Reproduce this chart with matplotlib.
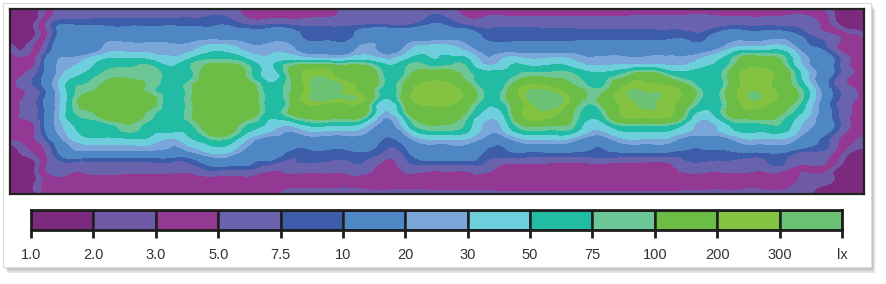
import numpy as np
import matplotlib
matplotlib.use("Agg")
import matplotlib.pyplot as plt
import matplotlib.tri as mtri
from matplotlib.patches import Rectangle

# lux classes of the legend (last limit only closes the top class)
bounds = [1.0, 2.0, 3.0, 5.0, 7.5, 10, 20, 30, 50, 75, 100, 200, 300, 1000]
tick_labels = ["1.0", "2.0", "3.0", "5.0", "7.5", "10", "20", "30", "50",
               "75", "100", "200", "300", "lx"]
band_colors = ["#7b2a7e", "#6f5aa8", "#933993", "#6963ae", "#3d5daa",
               "#4f87c5", "#7ba6da", "#6dcfdc", "#22bba3", "#6dc696",
               "#6bbd45", "#84c242", "#6bc174"]

# typical lux for each class code ('d' = hot spot)
band_lux = {"0": 1.4, "1": 2.45, "2": 3.9, "3": 6.1, "4": 8.7, "5": 14,
            "6": 24.5, "7": 39, "8": 61, "9": 87, "a": 141, "b": 245,
            "c": 346, "d": 500}

# class codes on the measuring grid, top row first, left to right
lux_rows = [
    "0023333333 3322222333 3332222222 2222222222 2100",
    "0034444444 4433333333 3443333333 3333333333 3200",
    "0035555555 5555544455 5555444444 4444445555 4321",
    "1145566666 7766655565 6776555555 5555556777 5422",
    "2256788878 9987888887 8888677776 6666678aa9 6532",
    "2357899988 aa979bbaa8 9aa9889998 89a9889bba 7532",
    "23589aa989 aaa89bdba8 abba89bba9 9bbba89bba 8532",
    "2358aaaa89 aaa89bbba7 abba89bdb9 abcba89bba 8532",
    "23589aa989 aaa89aaa96 9aa978bba8 9bbb979aa9 7532",
    "2257889888 aa87677765 7998679997 7888767888 6532",
    "1246777767 8865555554 5666556665 5666555666 5421",
    "0135555555 6655444443 4555444444 4444444444 3310",
    "0033333333 4443333332 3333322222 2222333333 2200",
    "0022222222 2222222222 2222222222 2222222222 1100",
    "0022222222 2222111111 1111111111 1111111111 1000",
]

lux = np.array([[band_lux[ch] for ch in "".join(row.split())] for row in lux_rows])
nrows, ncols = lux.shape
gx, gy = np.meshgrid(np.arange(ncols), np.arange(nrows))

W, H = 886, 284
fig = plt.figure(figsize=(W / 100, H / 100), dpi=100)
fig.patch.set_facecolor("white")


def box(x, y, w, h):
    # pixel box (from top left) -> figure fraction
    return [x / W, 1 - (y + h) / H, w / W, h / H]


# card with soft drop shadow
for k in range(7):
    fig.patches.append(Rectangle(((4 + k * 0.6) / W, 1 - (268 + k * 0.9) / H),
                                 868 / W, 264 / H, transform=fig.transFigure,
                                 facecolor="#000000", alpha=0.045, lw=0, zorder=-20))
fig.patches.append(Rectangle((3 / W, 1 - 267 / H), 868 / W, 264 / H,
                             transform=fig.transFigure, facecolor="white",
                             edgecolor="#dcdcdc", lw=0.8, zorder=-10))

# illuminance map, smoothed by matplotlib's triangulation refiner
tri = mtri.Triangulation(gx.ravel(), gy.ravel())
fine_tri, fine_z = mtri.UniformTriRefiner(tri).refine_field(np.log10(lux).ravel(), subdiv=3)
ax = fig.add_axes(box(10, 9, 854, 185))
ax.tricontourf(fine_tri, np.clip(fine_z, 0.01, 2.99), levels=np.log10(bounds),
               colors=band_colors, antialiased=False)
ax.set_xlim(0, ncols - 1)
ax.set_ylim(nrows - 1, 0)
ax.set_xticks([])
ax.set_yticks([])
for s in ax.spines.values():
    s.set_linewidth(1.6)
    s.set_color("#222222")

# class legend
cax = fig.add_axes(box(31, 210, 811, 20))
cax.bar(np.arange(len(band_colors)), 1, width=1, align="edge", color=band_colors,
        edgecolor="#1e1e1e", linewidth=1.8)
cax.set_xlim(0, len(band_colors))
cax.set_ylim(0, 1)
cax.set_yticks([])
cax.set_xticks(np.arange(len(tick_labels)))
cax.set_xticklabels(tick_labels, fontsize=10.5, color="#333333",
                    family=["Liberation Sans", "DejaVu Sans"])
cax.tick_params(axis="x", length=6, width=2, color="#1e1e1e", pad=7)
for s in cax.spines.values():
    s.set_linewidth(2)
    s.set_color("#1e1e1e")

fig.savefig("out.png", dpi=100, facecolor="white")
